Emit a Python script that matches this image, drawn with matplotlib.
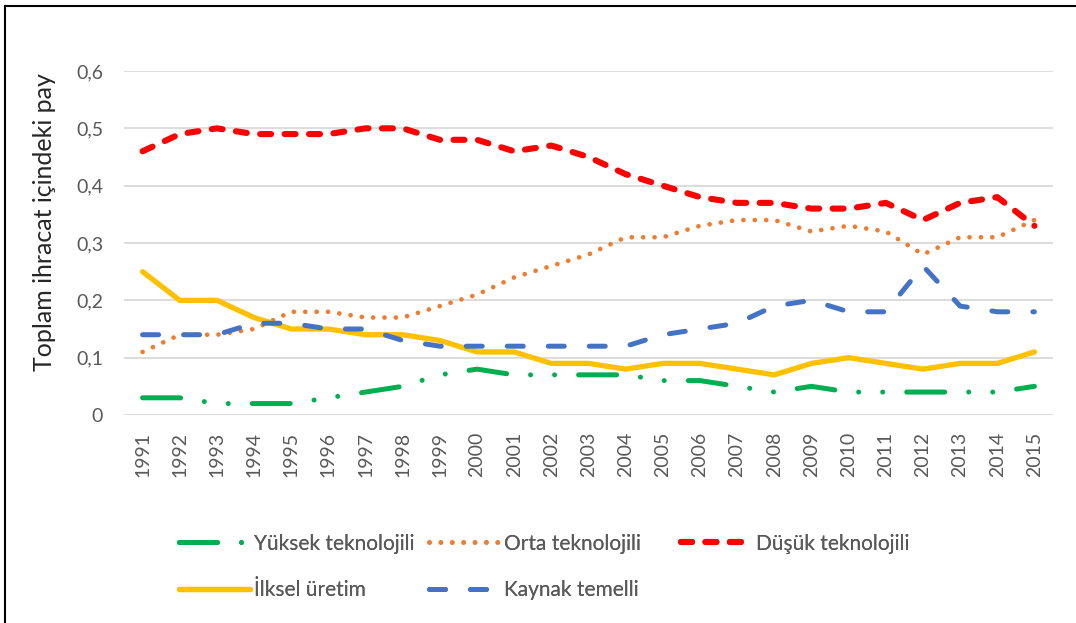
import matplotlib
matplotlib.use("Agg")
import matplotlib.pyplot as plt
from matplotlib.lines import Line2D

plt.rcParams['font.family'] = ['Lato', 'DejaVu Sans']

years = list(range(1991, 2016))

yuksek = [0.03, 0.03, 0.02, 0.02, 0.02, 0.03, 0.04, 0.05, 0.07, 0.08, 0.07, 0.07, 0.07,
          0.07, 0.06, 0.06, 0.05, 0.04, 0.05, 0.04, 0.04, 0.04, 0.04, 0.04, 0.05]
orta = [0.11, 0.14, 0.14, 0.15, 0.18, 0.18, 0.17, 0.17, 0.19, 0.21, 0.24, 0.26, 0.28,
        0.31, 0.31, 0.33, 0.34, 0.34, 0.32, 0.33, 0.32, 0.28, 0.31, 0.31, 0.34]
dusuk = [0.46, 0.49, 0.50, 0.49, 0.49, 0.49, 0.50, 0.50, 0.48, 0.48, 0.46, 0.47, 0.45,
         0.42, 0.40, 0.38, 0.37, 0.37, 0.36, 0.36, 0.37, 0.34, 0.37, 0.38, 0.33]
ilksel = [0.25, 0.20, 0.20, 0.17, 0.15, 0.15, 0.14, 0.14, 0.13, 0.11, 0.11, 0.09, 0.09,
          0.08, 0.09, 0.09, 0.08, 0.07, 0.09, 0.10, 0.09, 0.08, 0.09, 0.09, 0.11]
kaynak = [0.14, 0.14, 0.14, 0.16, 0.16, 0.15, 0.15, 0.13, 0.12, 0.12, 0.12, 0.12, 0.12,
          0.12, 0.14, 0.15, 0.16, 0.19, 0.20, 0.18, 0.18, 0.26, 0.19, 0.18, 0.18]

yticks = [0, 0.1, 0.2, 0.3, 0.4, 0.5, 0.6]
ytick_labels = ["0", "0,1", "0,2", "0,3", "0,4", "0,5", "0,6"]

fig = plt.figure(figsize=(10.76, 6.23), dpi=100)
ax = fig.add_axes([124 / 1076, 1 - 415 / 623, (1053 - 124) / 1076, (415 - 71) / 623])

kw = dict(solid_capstyle="round", dash_capstyle="round")
ax.plot(years, yuksek, color="#00B050", lw=3.6, linestyle=(0, (7.6, 4.8, 0.01, 4.8, 0.01, 4.8)),
        label="Yüksek teknolojili", **kw)
ax.plot(years, orta, color="#ED7D31", lw=3.4, linestyle=(0, (0.01, 2.4)),
        label="Orta teknolojili", **kw)
ax.plot(years, dusuk, color="#FF0000", lw=4.4, linestyle=(0, (1.8, 2.2)),
        label="Düşük teknolojili", **kw)
ax.plot(years, ilksel, color="#FFC000", lw=3.8, label="İlksel üretim", **kw)
ax.plot(years, kaynak, color="#4472C4", lw=3.6, linestyle=(0, (3.2, 5.0)),
        label="Kaynak temelli", **kw)

ax.set_xlim(1990.5, 2015.5)
ax.set_ylim(0, 0.6)
ax.set_yticks(yticks)
ax.set_yticklabels(ytick_labels)
ax.set_xticks(years)
ax.set_xticklabels([str(y) for y in years], rotation=90)
ax.tick_params(axis="y", length=0, pad=15, labelsize=14, labelcolor="#595959")
ax.tick_params(axis="x", length=0, pad=12, labelsize=14, labelcolor="#595959")
ax.grid(axis="y", color="#D9D9D9", lw=1.3)
ax.set_axisbelow(True)
for s in ax.spines.values():
    s.set_visible(False)

fig.text(45 / 1076, 1 - 222 / 623, "Toplam ihracat içindeki pay", rotation=90,
         ha="center", va="center", fontsize=18, color="#262626")

# legend: three columns placed like the original
h, l = ax.get_legend_handles_labels()
columns = [([0, 3], 160), ([1, 4], 410), ([2], 662)]
for idx, xpix in columns:
    leg = fig.legend([h[i] for i in idx], [l[i] for i in idx], ncol=1, frameon=False,
                     loc="upper left", bbox_to_anchor=(xpix / 1076, 1 - 515 / 623),
                     fontsize=15, labelcolor="#595959", handlelength=3.4,
                     handletextpad=0.2, labelspacing=1.28)
    fig.add_artist(leg)

# outer frame (left and top)
fig.add_artist(Line2D([5 / 1076, 5 / 1076], [0, 1 - 6 / 623], color="black", lw=1.5))
fig.add_artist(Line2D([5 / 1076, 1], [1 - 6 / 623, 1 - 6 / 623], color="black", lw=1.5))

fig.savefig("out.png", dpi=100)
